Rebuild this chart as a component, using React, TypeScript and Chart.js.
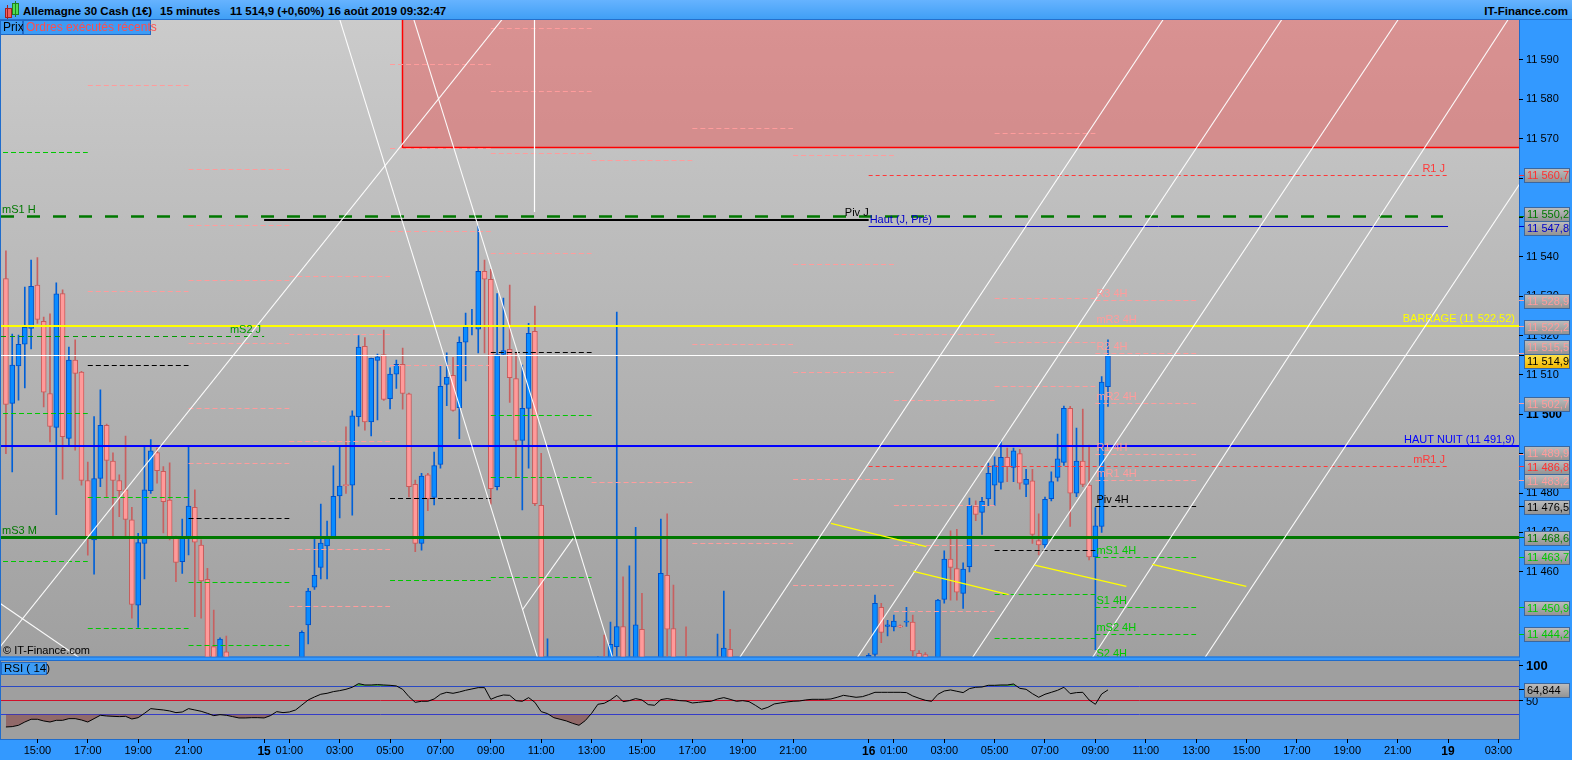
import { useEffect, useRef } from 'react';
import { Chart, registerables } from 'chart.js';

Chart.register(...registerables);

const FONT = '"Liberation Sans", Arial, Helvetica, sans-serif';
Chart.defaults.font.family = FONT;

// 15-minute bars, first bar 14 août 13:45. x values are hours counted from 14 août 00:00.
const firstBarHour = 13.75;
const barStepHours = 0.25;

const opens = [
  11534.5, 11502.8, 11512.3, 11517.8, 11521.8, 11532.8, 11523.6, 11505.3, 11496.7, 11530.7,
  11493.9, 11513.8, 11510.7, 11483.2, 11468.1, 11483.7, 11497.2, 11488.1, 11483.2, 11480.8,
  11473.2, 11451.5, 11467.2, 11480.6, 11490.3, 11485.5, 11478.2, 11468.8, 11462.6, 11468.8,
  11476.4, 11466.8, 11458.1, 11441.0, 11436.0, 11439.7, 11436.0, 11430.0, 11426.0, 11424.0,
  11425.0, 11424.0, 11423.0, 11427.0, 11433.0, 11431.0, 11434.0, 11436.5, 11446.5, 11456.1,
  11461.1, 11466.6, 11468.9, 11479.3, 11482.1, 11482.0, 11499.4, 11517.3, 11498.1, 11513.7,
  11515.2, 11504.0, 11510.2, 11512.7, 11505.2, 11482.2, 11467.2, 11484.6, 11478.9, 11487.3,
  11507.6, 11509.9, 11501.7, 11518.3, 11522.2, 11521.6, 11536.3, 11534.3, 11481.6, 11515.2,
  11516.5, 11509.1, 11493.4, 11501.5, 11521.1, 11476.9, 11430.0, 11433.0, 11420.0, 11408.0,
  11400.0, 11392.0, 11388.0, 11400.0, 11418.0, 11432.0, 11428.0, 11441.0, 11446.1, 11432.0,
  11434.0, 11445.4, 11428.0, 11420.0, 11418.0, 11459.1, 11445.6, 11432.0, 11432.0, 11428.0,
  11424.0, 11426.0, 11428.0, 11429.0, 11434.0, 11440.3, 11434.0, 11430.0, 11431.0, 11429.0,
  11420.0, 11412.0, 11416.0, 11422.0, 11424.0, 11426.0, 11427.0, 11428.0, 11430.0, 11431.0,
  11430.5, 11431.5, 11432.0, 11434.0, 11437.0, 11435.0, 11434.0, 11436.5, 11439.0, 11451.0,
  11446.1, 11446.0, 11446.3, 11447.2, 11447.2, 11439.3, 11439.0, 11437.6, 11437.6, 11453.0,
  11463.2, 11460.8, 11454.5, 11461.3, 11476.7, 11475.1, 11478.5, 11482.0, 11482.7, 11489.1,
  11486.5, 11490.0, 11482.2, 11483.1, 11467.9, 11466.8, 11478.6, 11484.0, 11487.8, 11501.5,
  11480.0, 11488.1, 11482.0, 11463.8, 11471.5, 11507.0,
];
const highs = [
  11541.5, 11520.4, 11520.1, 11532.3, 11539.2, 11539.8, 11524.7, 11525.5, 11533.4, 11531.6,
  11517.1, 11518.9, 11510.9, 11487.9, 11499.4, 11506.2, 11497.5, 11490.2, 11484.6, 11494.5,
  11476.4, 11469.8, 11491.8, 11493.6, 11491.4, 11486.7, 11487.7, 11469.1, 11473.4, 11491.6,
  11480.8, 11468.1, 11460.9, 11450.3, 11443.2, 11443.7, 11437.0, 11432.0, 11429.0, 11428.0,
  11427.0, 11426.0, 11429.0, 11435.0, 11434.0, 11436.0, 11438.0, 11445.0, 11455.8, 11468.8,
  11477.2, 11472.9, 11486.9, 11491.8, 11496.8, 11500.9, 11520.0, 11519.5, 11514.3, 11515.3,
  11521.4, 11511.8, 11513.8, 11516.8, 11505.4, 11483.3, 11485.0, 11485.0, 11490.4, 11512.3,
  11515.6, 11514.5, 11519.7, 11525.7, 11526.7, 11547.8, 11539.2, 11536.8, 11530.7, 11529.5,
  11532.8, 11515.5, 11512.5, 11523.1, 11527.5, 11490.1, 11443.0, 11435.0, 11422.0, 11412.0,
  11404.0, 11396.0, 11403.0, 11420.0, 11438.5, 11443.9, 11447.2, 11526.0, 11458.7, 11461.5,
  11471.3, 11454.5, 11432.0, 11424.0, 11473.4, 11474.7, 11456.6, 11436.0, 11446.0, 11431.0,
  11430.0, 11432.0, 11433.0, 11444.2, 11455.1, 11445.4, 11436.0, 11434.0, 11433.0, 11430.0,
  11422.0, 11418.0, 11424.0, 11426.0, 11428.0, 11429.0, 11430.0, 11432.0, 11433.0, 11433.0,
  11433.0, 11434.0, 11435.0, 11438.0, 11437.5, 11436.0, 11437.5, 11439.2, 11454.1, 11452.0,
  11447.7, 11449.0, 11446.5, 11451.0, 11449.0, 11440.0, 11439.5, 11438.0, 11453.0, 11465.3,
  11470.4, 11470.8, 11462.3, 11478.7, 11478.0, 11478.9, 11487.6, 11489.2, 11493.2, 11491.4,
  11491.4, 11491.1, 11486.0, 11486.0, 11474.7, 11479.0, 11485.4, 11495.0, 11502.1, 11502.0,
  11496.5, 11501.3, 11492.2, 11476.3, 11509.6, 11518.9,
];
const lows = [
  11490.0, 11485.4, 11503.6, 11506.7, 11516.6, 11523.1, 11501.9, 11493.0, 11474.5, 11483.5,
  11491.8, 11490.9, 11482.0, 11464.2, 11459.4, 11481.6, 11479.1, 11468.9, 11474.0, 11469.2,
  11448.2, 11445.9, 11458.2, 11479.9, 11482.5, 11469.9, 11468.1, 11457.5, 11459.6, 11464.3,
  11448.6, 11448.2, 11428.0, 11434.0, 11433.0, 11432.0, 11427.0, 11422.0, 11420.0, 11421.0,
  11420.0, 11419.0, 11421.0, 11425.0, 11428.0, 11429.0, 11432.0, 11434.0, 11441.7, 11455.5,
  11458.2, 11458.2, 11468.8, 11473.7, 11479.9, 11474.4, 11497.0, 11496.0, 11494.5, 11498.6,
  11503.5, 11501.4, 11506.6, 11501.3, 11479.0, 11465.1, 11465.5, 11475.5, 11477.0, 11486.3,
  11502.2, 11500.8, 11493.8, 11508.5, 11520.2, 11515.6, 11515.6, 11477.2, 11480.8, 11515.0,
  11503.0, 11484.1, 11475.7, 11486.3, 11476.8, 11428.0, 11425.0, 11415.0, 11402.0, 11395.0,
  11386.0, 11382.0, 11385.0, 11398.0, 11416.0, 11424.0, 11426.0, 11438.0, 11428.0, 11428.0,
  11430.0, 11425.0, 11416.0, 11412.0, 11416.0, 11436.0, 11428.0, 11425.0, 11424.0, 11420.0,
  11421.0, 11423.0, 11425.0, 11427.0, 11431.0, 11431.0, 11427.0, 11427.0, 11426.0, 11417.0,
  11409.0, 11410.0, 11414.0, 11420.0, 11422.0, 11424.0, 11425.0, 11426.0, 11428.0, 11429.0,
  11429.0, 11430.0, 11431.0, 11433.0, 11434.0, 11432.0, 11432.0, 11435.0, 11437.0, 11442.0,
  11443.7, 11445.0, 11445.8, 11446.1, 11438.0, 11436.0, 11435.0, 11432.0, 11436.0, 11452.0,
  11452.8, 11452.8, 11450.7, 11460.0, 11473.0, 11469.5, 11476.8, 11476.8, 11481.0, 11482.9,
  11482.9, 11481.0, 11479.1, 11467.2, 11464.3, 11466.0, 11478.0, 11483.0, 11487.0, 11471.5,
  11479.1, 11481.6, 11463.0, 11440.2, 11470.0, 11502.0,
];
const closes = [
  11502.5, 11512.5, 11517.8, 11522.1, 11532.5, 11524.1, 11505.6, 11496.9, 11530.6, 11494.3,
  11513.8, 11510.4, 11483.2, 11468.5, 11483.7, 11497.2, 11488.3, 11483.2, 11480.6, 11473.3,
  11451.7, 11467.4, 11480.8, 11490.7, 11485.7, 11477.8, 11468.5, 11462.4, 11469.0, 11476.7,
  11467.5, 11457.7, 11436.0, 11437.0, 11442.9, 11436.0, 11430.0, 11426.0, 11424.0, 11425.0,
  11424.0, 11423.0, 11427.0, 11433.0, 11431.0, 11434.0, 11436.5, 11444.6, 11455.1, 11459.1,
  11467.3, 11469.0, 11479.2, 11481.8, 11481.9, 11499.6, 11517.1, 11498.1, 11514.2, 11514.6,
  11503.8, 11510.2, 11512.7, 11505.3, 11481.6, 11467.2, 11484.3, 11478.5, 11487.0, 11507.1,
  11509.4, 11501.0, 11518.3, 11522.3, 11522.4, 11536.3, 11534.3, 11481.1, 11515.2, 11516.2,
  11509.3, 11493.4, 11501.5, 11520.6, 11477.3, 11432.0, 11433.0, 11420.0, 11408.0, 11400.0,
  11392.0, 11388.0, 11400.0, 11418.0, 11432.0, 11428.0, 11441.6, 11446.1, 11432.0, 11436.0,
  11446.5, 11428.0, 11420.0, 11418.0, 11459.6, 11445.4, 11432.0, 11430.0, 11428.0, 11424.0,
  11426.0, 11428.0, 11429.0, 11434.0, 11440.6, 11434.0, 11430.0, 11431.0, 11429.0, 11420.0,
  11412.0, 11416.0, 11422.0, 11424.0, 11426.0, 11427.0, 11428.0, 11430.0, 11431.0, 11430.5,
  11431.5, 11432.0, 11434.0, 11437.0, 11435.0, 11434.0, 11436.5, 11438.8, 11452.0, 11444.6,
  11446.5, 11447.5, 11446.0, 11447.4, 11439.9, 11437.6, 11437.6, 11436.0, 11452.8, 11463.2,
  11461.1, 11454.8, 11460.7, 11476.8, 11474.6, 11477.9, 11485.0, 11487.0, 11489.1, 11486.7,
  11490.7, 11482.5, 11483.5, 11469.5, 11466.8, 11478.4, 11482.9, 11488.7, 11501.5, 11480.0,
  11488.1, 11482.2, 11463.8, 11471.7, 11508.2, 11514.9,
];

// RSI (14), one value per bar
const rsiValues = [
  11.9, 12.4, 14.3, 19.0, 22.9, 22.9, 20.5, 19.0, 21.4, 21.4,
  23.8, 23.8, 21.9, 19.0, 23.8, 28.6, 27.6, 27.1, 26.7, 27.1,
  23.3, 25.2, 31.4, 38.1, 37.1, 36.2, 34.8, 32.4, 33.3, 38.1,
  36.2, 34.3, 31.4, 28.1, 29.5, 28.6, 26.7, 24.8, 24.8, 25.2,
  25.2, 24.8, 28.1, 33.8, 32.4, 33.3, 36.2, 43.3, 50.5, 54.8,
  58.6, 60.0, 62.4, 63.8, 65.7, 68.6, 73.8, 71.9, 71.9, 72.4,
  71.9, 71.4, 70.5, 65.7, 55.2, 47.1, 48.6, 48.6, 51.9, 58.6,
  61.4, 60.0, 61.9, 64.3, 66.2, 68.1, 68.1, 51.4, 55.2, 57.6,
  57.1, 49.5, 48.6, 53.8, 47.1, 33.8, 31.0, 25.2, 22.9, 20.5,
  17.1, 14.3, 21.0, 31.4, 44.3, 45.7, 50.5, 57.1, 48.1, 49.5,
  52.4, 50.5, 43.8, 42.9, 51.0, 52.4, 51.0, 49.5, 49.0, 46.2,
  47.1, 48.1, 48.6, 51.9, 53.8, 51.4, 48.6, 49.5, 48.1, 42.9,
  37.1, 40.0, 44.8, 46.2, 47.6, 48.6, 49.0, 50.5, 51.4, 51.4,
  51.4, 51.9, 54.3, 57.1, 55.7, 54.3, 55.2, 58.1, 61.4, 61.4,
  61.4, 61.4, 61.4, 61.0, 56.2, 52.9, 50.0, 48.6, 58.6, 63.3,
  64.8, 62.9, 61.0, 66.7, 68.6, 69.0, 71.4, 71.4, 71.9, 71.9,
  73.3, 67.1, 65.7, 59.5, 54.3, 58.6, 61.4, 64.3, 68.6, 59.5,
  61.0, 61.4, 50.5, 44.3, 59.0, 64.844,
];
const rsiGuideLevels = [70, 50, 30];

const timeTickHours = [15, 17, 19, 21, 24, 25, 27, 29, 31, 33, 35, 37, 39, 41, 43, 45, 48, 49, 51, 53, 55, 57, 59, 61, 63, 65, 67, 69, 71, 73];
const timeTickLabels = [
  '15:00', '17:00', '19:00', '21:00', '15', '01:00', '03:00', '05:00', '07:00', '09:00',
  '11:00', '13:00', '15:00', '17:00', '19:00', '21:00', '16', '01:00', '03:00', '05:00',
  '07:00', '09:00', '11:00', '13:00', '15:00', '17:00', '19:00', '21:00', '19', '03:00',
];
const dayTickHours = [24, 48, 71];
const priceTicks = [11460, 11470, 11480, 11490, 11500, 11510, 11520, 11530, 11540, 11550, 11560, 11570, 11580, 11590];

// 4H pivot levels, one group per 4-hour block (kind: r resistance, p pivot, s support)
const pivotBlockStarts = [13, 17, 21, 25, 29, 33, 37, 41, 45, 49, 53, 57];
const pivotBlockLevels = [
  [11566.6, 11500.1, 11462.5],
  [11583.4, 11531.3, 11512.3, 11478.9, 11445.6],
  [11562.1, 11548.0, 11534.0, 11517.9, 11501.5, 11487.6, 11473.6, 11457.3, 11441.2],
  [11549.5, 11535.1, 11520.3, 11493.1, 11465.7, 11451.2],
  [11588.9, 11567.6, 11546.5, 11512.5, 11478.7, 11457.7],
  [11598.0, 11582.1, 11566.3, 11540.9, 11515.8, 11499.7, 11484.0, 11458.6],
  [11564.5, 11482.7],
  [11572.5, 11517.7, 11467.2],
  [11565.7, 11538.1, 11510.5, 11483.5, 11456.6],
  [11520.3, 11503.5, 11476.8, 11466.6, 11450.0],
  [11571.3, 11529.5, 11518.2, 11507.1, 11465.3, 11454.3, 11443.1],
  [11528.9, 11522.2, 11515.5, 11502.7, 11489.9, 11483.2, 11476.5, 11463.7, 11450.9, 11444.2, 11437.5],
];
const pivotBlockKinds = ['sss', 'rrpss', 'rrrrrrpss', 'rrrrrr', 'rrrrps', 'rrrrpsss', 'rr', 'rrr', 'rrrrr', 'rrrrr', 'rrrrpss', 'rrrrrrpssss'];
const pivot4hNames = ['R3 4H', 'mR3 4H', 'R2 4H', 'mR2 4H', 'R1 4H', 'mR1 4H', 'Piv 4H', 'mS1 4H', 'S1 4H', 'mS2 4H', 'S2 4H'];

// longer levels (daily / weekly / manual)
const keyLevelNames = ['mS1 H', 'Piv J', 'Haut (J, Pré)', 'R1 J', 'mS2 J', 'BARRAGE (11 522,52)', 'HAUT NUIT (11 491,9)', 'mR1 J', 'mS3 M', ''];
const keyLevelPrices = [11550.2, 11549.4, 11547.8, 11560.7, 11519.8, 11522.52, 11491.9, 11486.8, 11468.6, 11514.9];
const keyLevelStart = [13.5, 24, 48, 48, 13.5, 13.5, 13.5, 48, 13.5, 13.5];
const keyLevelEnd = [70.8, 48, 71, 71, 24, 74, 74, 71, 74, 74];

// drawn zone and trend lines: [hour1, price1, hour2, price2]
const zoneStartHour = 29.49;
const zoneFloorPrice = 11567.8;
const markerHour = 34.73;
const markerFloorPrice = 11551.4;
const whiteLines = [
  [13.3, 11439.2, 33.66, 11602.0],
  [26.92, 11602.0, 34.96, 11436.0],
  [29.86, 11602.0, 37.94, 11436.0],
  [13.515, 11452.0, 17.96, 11432.5],
  [34.25, 11450.3, 36.27, 11468.5],
  [42.65, 11436.0, 59.87, 11602.0],
  [47.32, 11436.0, 64.58, 11602.0],
  [51.89, 11436.0, 69.2, 11602.0],
  [56.66, 11436.0, 73.56, 11602.0],
  [61.12, 11436.0, 78.36, 11602.0],
];
const yellowLines = [
  [46.5, 11472.3, 50.29, 11466.4],
  [49.78, 11460.1, 53.56, 11454.2],
  [54.59, 11461.7, 58.23, 11456.3],
  [59.26, 11461.9, 62.99, 11456.3],
];

// price tags on the right axis
const axisBoxValues = [11560.7, 11550.2, 11547.8, 11528.9, 11522.2, 11515.5, 11514.9, 11502.7, 11489.9, 11486.8, 11483.2, 11476.5, 11468.6, 11463.7, 11450.9, 11444.2];

const barHours = opens.map((_, i) => firstBarHour + i * barStepHours);

// ---- layout ----
const W = 1572;
const H = 760;
const PRICE_BOTTOM = 656.5;
const RSI_TOP = 661;
const X_MIN = 13.555;
const X_MAX = 73.817;
const Y_MIN = 11417.53;
const Y_MAX = 11600.16;
const RSI_MIN = -5.286;
const RSI_MAX = 1021.857;
const BLUE = '#3399ff';

const PINK = '#ff9c9c';
const GREEN = '#00c800';
const DARK_GREEN = '#007800';
const kindColor: Record<string, string> = { r: PINK, p: '#000000', s: GREEN };

const keyLevelStyles = [
  { color: DARK_GREEN, text: DARK_GREEN, width: 2.5, dash: [13, 13], label: 'start' },
  { color: '#000000', text: '#000000', width: 2, dash: [], label: 'end' },
  { color: '#0000c8', text: '#0000c8', width: 1, dash: [], label: 'start' },
  { color: '#ff3838', text: '#ff3838', width: 1, dash: [4, 3], label: 'end' },
  { color: '#009a00', text: '#009a00', width: 1, dash: [5, 4], label: 'end' },
  { color: '#ffff00', text: '#ffff00', width: 2, dash: [], label: 'end' },
  { color: '#0000ff', text: '#0000ff', width: 2, dash: [], label: 'end' },
  { color: '#ff3838', text: '#ff3838', width: 1, dash: [4, 3], label: 'end' },
  { color: DARK_GREEN, text: DARK_GREEN, width: 3, dash: [], label: 'start' },
  { color: '#ffffff', text: '#ffffff', width: 1, dash: [], label: 'none' },
];
const axisBoxStyles = [
  '#ff3030', DARK_GREEN, '#0000c8', PINK, PINK, PINK, '#000000', PINK, PINK, '#ff3030', PINK, '#000000', DARK_GREEN, GREEN, GREEN, GREEN,
];
const lastPriceIndex = 6;

function fmtNum(v: number, d: number) {
  const [i, f] = v.toFixed(d).split('.');
  const g = i.replace(/\B(?=(\d{3})+(?!\d))/g, ' ');
  return f ? `${g},${f}` : g;
}

function crisp(y: number, w: number) {
  return Math.round(w) % 2 === 1 ? Math.round(y - 0.5) + 0.5 : Math.round(y);
}

function seg(ctx: CanvasRenderingContext2D, x1: number, y1: number, x2: number, y2: number, color: string, width: number, dash: number[]) {
  ctx.beginPath();
  ctx.setLineDash(dash);
  ctx.strokeStyle = color;
  ctx.lineWidth = width;
  ctx.moveTo(x1, y1);
  ctx.lineTo(x2, y2);
  ctx.stroke();
}

function tag(ctx: CanvasRenderingContext2D, x: number, yc: number, text: string, color: string, gold: boolean) {
  const w = 45;
  const h = 14;
  const top = Math.round(yc - h / 2) + 0.5;
  const g = ctx.createLinearGradient(0, top, 0, top + h);
  if (gold) {
    g.addColorStop(0, '#ffe34d');
    g.addColorStop(1, '#f2b600');
  } else {
    g.addColorStop(0, '#bdbdbd');
    g.addColorStop(1, '#929292');
  }
  ctx.setLineDash([]);
  ctx.fillStyle = g;
  ctx.fillRect(x + 0.5, top, w, h);
  ctx.strokeStyle = '#3b679e';
  ctx.lineWidth = 1;
  ctx.strokeRect(x + 0.5, top, w, h);
  ctx.fillStyle = color;
  ctx.textAlign = 'left';
  ctx.textBaseline = 'middle';
  ctx.fillText(text, x + 3, top + h / 2 + 0.5);
}

const tradingPlugin = {
  id: 'tradingWindow',
  beforeDraw(chart: any) {
    const { ctx, chartArea: a } = chart;
    ctx.save();
    ctx.fillStyle = BLUE;
    ctx.fillRect(0, 0, chart.width, chart.height);
    const g = ctx.createLinearGradient(0, a.top, 0, PRICE_BOTTOM);
    g.addColorStop(0, '#cbcbcb');
    g.addColorStop(1, '#a0a0a0');
    ctx.fillStyle = g;
    ctx.fillRect(a.left, a.top, a.right - a.left, PRICE_BOTTOM - a.top);
    ctx.fillStyle = '#9f9f9f';
    ctx.fillRect(a.left, RSI_TOP, a.right - a.left, a.bottom - RSI_TOP);
    ctx.strokeStyle = '#1f6ccc';
    ctx.lineWidth = 1;
    ctx.strokeRect(a.left - 0.5, a.top - 0.5, a.right - a.left + 1, PRICE_BOTTOM - a.top + 1);
    ctx.strokeRect(a.left - 0.5, RSI_TOP - 0.5, a.right - a.left + 1, a.bottom - RSI_TOP + 1);
    ctx.restore();
  },
  beforeDatasetsDraw(chart: any) {
    const { ctx, chartArea: a } = chart;
    const rs = chart.scales.yRsi;
    ctx.save();
    rsiGuideLevels.forEach((v) => {
      const y = crisp(rs.getPixelForValue(v), 1);
      seg(ctx, a.left, y, a.right, y, v === 50 ? '#d0102a' : '#2f3fd8', 1, []);
    });
    ctx.restore();
  },
  beforeDatasetDraw(chart: any, args: any) {
    const { ctx, chartArea: a } = chart;
    const price = args.meta.yAxisID === 'y';
    const top = price ? a.top : RSI_TOP;
    const bottom = price ? PRICE_BOTTOM : a.bottom;
    ctx.save();
    ctx.beginPath();
    ctx.rect(a.left, top, a.right - a.left, bottom - top);
    ctx.clip();
  },
  afterDatasetDraw(chart: any) {
    chart.ctx.restore();
  },
  afterDatasetsDraw(chart: any) {
    const { ctx, chartArea: a } = chart;
    const xs = chart.scales.x;
    const ys = chart.scales.y;
    const X = (h: number) => xs.getPixelForValue(h);
    const Y = (p: number) => ys.getPixelForValue(p);
    ctx.save();
    ctx.beginPath();
    ctx.rect(a.left, a.top, a.right - a.left, PRICE_BOTTOM - a.top);
    ctx.clip();

    // resistance zone
    const zx = Math.round(X(zoneStartHour)) + 0.5;
    const zy = Math.round(Y(zoneFloorPrice)) + 0.5;
    ctx.fillStyle = 'rgba(240, 52, 52, 0.38)';
    ctx.fillRect(zx, a.top, a.right - zx, zy - a.top);
    ctx.setLineDash([]);
    ctx.strokeStyle = '#ff0000';
    ctx.lineWidth = 1.5;
    ctx.beginPath();
    ctx.moveTo(zx, a.top);
    ctx.lineTo(zx, zy);
    ctx.lineTo(a.right, zy);
    ctx.stroke();

    // 4H pivots
    pivotBlockStarts.forEach((start, b) => {
      const x1 = X(start);
      const x2 = X(start + 4);
      pivotBlockLevels[b].forEach((p, k) => {
        const y = crisp(Y(p), 1);
        seg(ctx, x1, y, x2, y, kindColor[pivotBlockKinds[b][k]], 1, [5, 3]);
      });
    });

    // key levels
    keyLevelPrices.forEach((p, k) => {
      const st = keyLevelStyles[k];
      const x1 = Math.max(a.left, X(keyLevelStart[k]));
      const x2 = Math.min(a.right, X(keyLevelEnd[k]));
      const y = crisp(Y(p), st.width);
      seg(ctx, x1, y, x2, y, st.color, st.width, st.dash);
    });

    // white marker + diagonals
    const mx = Math.round(X(markerHour)) + 0.5;
    seg(ctx, mx, a.top, mx, Y(markerFloorPrice), '#ffffff', 1.2, []);
    whiteLines.forEach(([h1, p1, h2, p2]) => seg(ctx, X(h1), Y(p1), X(h2), Y(p2), 'rgba(255,255,255,0.95)', 1.1, []));
    yellowLines.forEach(([h1, p1, h2, p2]) => seg(ctx, X(h1), Y(p1), X(h2), Y(p2), '#ffff00', 1.4, []));

    // labels
    ctx.font = `11px ${FONT}`;
    ctx.textBaseline = 'bottom';
    keyLevelNames.forEach((name, k) => {
      const st = keyLevelStyles[k];
      if (!name || st.label === 'none') return;
      const y = Y(keyLevelPrices[k]) - 1;
      ctx.fillStyle = st.text;
      if (st.label === 'start') {
        ctx.textAlign = 'left';
        ctx.fillText(name, Math.max(a.left, X(keyLevelStart[k])) + 1, y);
      } else {
        ctx.textAlign = 'right';
        const end = Math.min(a.right - 1, X(keyLevelEnd[k]));
        ctx.fillText(name, end - (k === 1 ? 0 : 3), y);
      }
    });
    const last = pivotBlockLevels.length - 1;
    ctx.textAlign = 'left';
    pivotBlockLevels[last].forEach((p, k) => {
      ctx.fillStyle = kindColor[pivotBlockKinds[last][k]];
      ctx.fillText(pivot4hNames[k], X(pivotBlockStarts[last]) + 1, Y(p) - 1);
    });
    ctx.restore();
  },
  afterDraw(chart: any) {
    const { ctx, chartArea: a } = chart;
    const ys = chart.scales.y;
    const rs = chart.scales.yRsi;
    const raw = axisBoxValues.map((v) => ys.getPixelForValue(v));
    const pos = [...raw];
    const order = pos.map((_, i) => i).sort((i, j) => pos[i] - pos[j]);
    const bh = 14;
    for (let it = 0; it < 40; it++) {
      for (let k = 1; k < order.length; k++) {
        const u = order[k - 1];
        const w = order[k];
        const gap = pos[w] - pos[u];
        if (gap < bh) {
          const d = (bh - gap) / 2;
          pos[u] -= d;
          pos[w] += d;
        }
      }
    }
    ctx.save();
    ctx.font = `11px ${FONT}`;
    axisBoxValues.forEach((v, k) => {
      const y = crisp(raw[k], 1);
      seg(ctx, a.right, y, a.right + 5, y, axisBoxStyles[k], 1, []);
      tag(ctx, a.right + 5, pos[k], fmtNum(v, 1), axisBoxStyles[k], k === lastPriceIndex);
    });

    // RSI scale
    const y100 = crisp(rs.getPixelForValue(100), 1);
    const y50 = crisp(rs.getPixelForValue(50), 1);
    seg(ctx, a.right, y100, a.right + 4, y100, '#000', 1, []);
    seg(ctx, a.right, y50, a.right + 4, y50, '#000', 1, []);
    ctx.fillStyle = '#000';
    ctx.textAlign = 'left';
    ctx.textBaseline = 'middle';
    ctx.font = `bold 13px ${FONT}`;
    ctx.fillText('100', a.right + 7, y100 + 1);
    ctx.font = `11px ${FONT}`;
    ctx.fillText('50', a.right + 7, y50 + 1);
    const lastRsi = rsiValues[rsiValues.length - 1];
    const yr = rs.getPixelForValue(lastRsi);
    seg(ctx, a.right, crisp(yr, 1), a.right + 5, crisp(yr, 1), '#000', 1, []);
    tag(ctx, a.right + 5, yr, fmtNum(lastRsi, 3), '#000', false);
    ctx.restore();
  },
};

export default function App() {
  const canvasRef = useRef<HTMLCanvasElement>(null);

  useEffect(() => {
    const canvas = canvasRef.current;
    if (!canvas) return;

    const rising = closes.map((c, i) => c >= opens[i]);
    const wickData = barHours.map((h, i) => ({ x: h, y: [lows[i], highs[i]] }));
    const bodyData = barHours.map((h, i) => ({ x: h, y: [opens[i], closes[i]] }));
    const rsiData = barHours.map((h, i) => ({ x: h, y: rsiValues[i] }));

    const chart = new Chart(canvas, {
      type: 'line',
      data: {
        datasets: [
          {
            type: 'bar',
            label: 'Corps',
            data: bodyData as any,
            yAxisID: 'y',
            backgroundColor: rising.map((r) => (r ? '#0a8cff' : '#ff9a9a')),
            borderColor: rising.map((r) => (r ? '#0050c8' : '#c85a5a')),
            borderWidth: 1,
            borderSkipped: false,
            barThickness: 5,
            minBarLength: 1,
            grouped: false,
            order: 1,
          } as any,
          {
            type: 'bar',
            label: 'Mèches',
            data: wickData as any,
            yAxisID: 'y',
            backgroundColor: rising.map((r) => (r ? '#0060d8' : '#c86060')),
            borderWidth: 0,
            barThickness: 1,
            grouped: false,
            order: 2,
          } as any,
          {
            type: 'line',
            label: 'RSI ( 14)',
            data: rsiData as any,
            yAxisID: 'yRsi',
            borderColor: '#000000',
            borderWidth: 1,
            pointRadius: 0,
            pointHoverRadius: 0,
            tension: 0,
            fill: { target: { value: 30 }, above: 'rgba(0,0,0,0)', below: 'rgba(128,40,40,0.45)' },
            order: 0,
          } as any,
          {
            type: 'line',
            label: 'RSI > 70',
            data: rsiData as any,
            yAxisID: 'yRsi',
            borderWidth: 0,
            borderColor: 'rgba(0,0,0,0)',
            pointRadius: 0,
            pointHoverRadius: 0,
            tension: 0,
            fill: { target: { value: 70 }, above: 'rgba(0,170,0,0.55)', below: 'rgba(0,0,0,0)' },
            order: 3,
          } as any,
        ],
      },
      options: {
        animation: false,
        responsive: false,
        events: [],
        layout: { autoPadding: false, padding: { top: 20, left: 1, right: 0, bottom: 0 } },
        plugins: { legend: { display: false }, tooltip: { enabled: false } },
        scales: {
          x: {
            type: 'linear',
            axis: 'x',
            position: 'bottom',
            min: X_MIN,
            max: X_MAX,
            offset: false,
            afterBuildTicks: (s: any) => {
              s.ticks = timeTickHours.map((v) => ({ value: v }));
            },
            afterFit: (s: any) => {
              s.height = 21;
              s.paddingLeft = 0;
              s.paddingRight = 0;
            },
            grid: { drawOnChartArea: false, drawTicks: true, tickLength: 4, tickColor: '#000', offset: false },
            border: { display: false },
            ticks: {
              autoSkip: false,
              maxRotation: 0,
              minRotation: 0,
              padding: 1,
              color: '#000',
              font: (c: any) => {
                const day = c.tick && dayTickHours.includes(c.tick.value);
                return { family: FONT, size: day ? 12 : 11, weight: day ? 'bold' : 'normal' };
              },
              callback: (_v: any, i: number) => timeTickLabels[i],
            },
          },
          y: {
            type: 'linear',
            axis: 'y',
            position: 'right',
            min: Y_MIN,
            max: Y_MAX,
            afterBuildTicks: (s: any) => {
              s.ticks = priceTicks.map((v) => ({ value: v }));
            },
            afterFit: (s: any) => {
              s.width = 53;
              s.paddingTop = 0;
              s.paddingBottom = 0;
            },
            grid: { drawOnChartArea: false, drawTicks: true, tickLength: 4, tickColor: '#000' },
            border: { display: false },
            ticks: {
              autoSkip: false,
              padding: 3,
              color: '#000',
              font: (c: any) => {
                const bold = c.tick && c.tick.value === 11500;
                return { family: FONT, size: bold ? 12 : 11, weight: bold ? 'bold' : 'normal' };
              },
              callback: (v: any) => fmtNum(Number(v), 0),
            },
          },
          yRsi: {
            type: 'linear',
            axis: 'y',
            position: 'right',
            display: false,
            min: RSI_MIN,
            max: RSI_MAX,
          },
        },
      } as any,
      plugins: [tradingPlugin],
    });

    return () => chart.destroy();
  }, []);

  const box: React.CSSProperties = {
    position: 'absolute',
    boxSizing: 'border-box',
    background: '#3d9cf5',
    border: '1px solid #2169c6',
    fontSize: 12,
    lineHeight: '13px',
    padding: '0 2px',
    whiteSpace: 'nowrap',
  };

  return (
    <div style={{ position: 'absolute', left: 0, top: 0, width: W, height: H, overflow: 'hidden', fontFamily: FONT }}>
      <canvas ref={canvasRef} width={W} height={H} style={{ position: 'absolute', left: 0, top: 0, width: W, height: H }} />
      <div style={{ position: 'absolute', left: 0, top: 0, width: W, height: 20, boxSizing: 'border-box', background: 'linear-gradient(#66b3ff, #409ff5)', borderBottom: '1px solid #2470cc' }} />
      <div style={{ position: 'absolute', left: 5, top: 8, width: 5, height: 8, background: '#f06060', border: '1px solid #a02020' }} />
      <div style={{ position: 'absolute', left: 7, top: 5, width: 1, height: 14, background: '#a02020' }} />
      <div style={{ position: 'absolute', left: 12, top: 3, width: 5, height: 10, background: '#50e050', border: '1px solid #208020' }} />
      <div style={{ position: 'absolute', left: 14.5, top: 1, width: 1, height: 16, background: '#208020' }} />
      {[
        ['Allemagne 30 Cash (1€)', 23],
        ['15 minutes', 160],
        ['11 514,9 (+0,60%)', 230],
        ['16 août 2019 09:32:47', 328],
      ].map(([t, x]) => (
        <span key={String(t)} style={{ position: 'absolute', left: Number(x), top: 4, fontSize: 11.5, fontWeight: 'bold', lineHeight: '14px', whiteSpace: 'nowrap' }}>{t}</span>
      ))}
      <span style={{ position: 'absolute', right: 4, top: 4, fontSize: 11.5, fontWeight: 'bold', lineHeight: '14px' }}>IT-Finance.com</span>
      <div style={{ ...box, left: 0, top: 20, width: 23, height: 15 }}>Prix</div>
      <div style={{ ...box, left: 23, top: 20, width: 128, height: 15, color: '#ff4d4d' }}>Ordres exécutés récents</div>
      <div style={{ ...box, left: 1, top: 662, width: 46, height: 13, fontSize: 11.5, lineHeight: '11px' }}>RSI ( 14)</div>
      <span style={{ position: 'absolute', left: 3, top: 644, fontSize: 11, lineHeight: '13px' }}>© IT-Finance.com</span>
    </div>
  );
}
